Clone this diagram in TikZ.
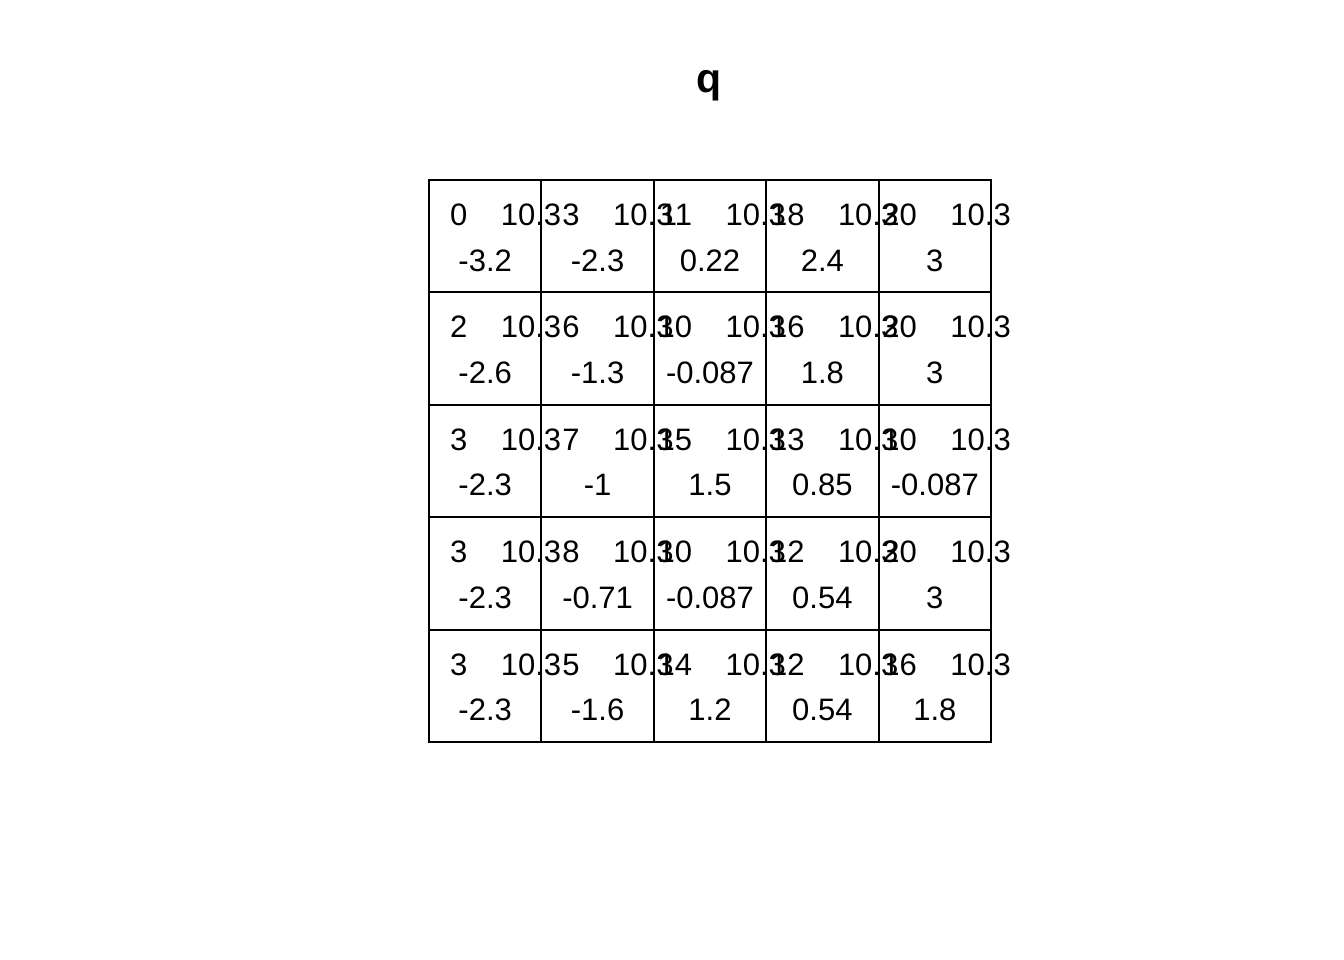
\documentclass[tikz,border=0pt]{standalone}
\usepackage{fontspec}
\setmainfont{Liberation Sans}
\tikzset{
  cell/.style={font=\fontsize{31}{32}\selectfont, inner sep=0pt},
  cnt/.style={cell, anchor=base east},
  rwd/.style={cell, anchor=base west},
  qval/.style={cell, anchor=base}
}
\begin{document}
\begin{tikzpicture}[x=1pt,y=-1pt]
\useasboundingbox (0,0) rectangle (1344,960);
\node[font=\fontsize{41}{42}\selectfont\bfseries, anchor=base, inner sep=0pt] (title) at (709,92.5) {q};
% grid lines
\foreach \k in {0,...,5} {
  \draw[line width=2pt, line cap=rect] (429+112.4*\k,180) -- (429+112.4*\k,742);
  \draw[line width=2pt, line cap=rect] (429,180+112.4*\k) -- (991,180+112.4*\k);
}
% top line of each cell
\foreach \r in {1,...,5}
  \foreach \c in {1,...,5}
    \node[rwd] (r\r\c) at ({429+112.4*(\c-1)+71.6},{225.5+112.4*(\r-1)}) {10.3};
\foreach \n [count=\c] in {0,3,11,18,20}
  \node[cnt] (n1\c) at ({429+112.4*(\c-1)+38.5},225.5) {\n};
\foreach \n [count=\c] in {2,6,10,16,20}
  \node[cnt] (n2\c) at ({429+112.4*(\c-1)+38.5},337.9) {\n};
\foreach \n [count=\c] in {3,7,15,13,10}
  \node[cnt] (n3\c) at ({429+112.4*(\c-1)+38.5},450.3) {\n};
\foreach \n [count=\c] in {3,8,10,12,20}
  \node[cnt] (n4\c) at ({429+112.4*(\c-1)+38.5},562.7) {\n};
\foreach \n [count=\c] in {3,5,14,12,16}
  \node[cnt] (n5\c) at ({429+112.4*(\c-1)+38.5},675.1) {\n};
% q values
\foreach \v [count=\c] in {-3.2,-2.3,0.22,2.4,3}
  \node[qval] (v1\c) at ({429+112.4*(\c-0.5)},271) {\v};
\foreach \v [count=\c] in {-2.6,-1.3,-0.087,1.8,3}
  \node[qval] (v2\c) at ({429+112.4*(\c-0.5)},383.4) {\v};
\foreach \v [count=\c] in {-2.3,-1,1.5,0.85,-0.087}
  \node[qval] (v3\c) at ({429+112.4*(\c-0.5)},495.8) {\v};
\foreach \v [count=\c] in {-2.3,-0.71,-0.087,0.54,3}
  \node[qval] (v4\c) at ({429+112.4*(\c-0.5)},608.2) {\v};
\foreach \v [count=\c] in {-2.3,-1.6,1.2,0.54,1.8}
  \node[qval] (v5\c) at ({429+112.4*(\c-0.5)},720.6) {\v};
\end{tikzpicture}
\end{document}
